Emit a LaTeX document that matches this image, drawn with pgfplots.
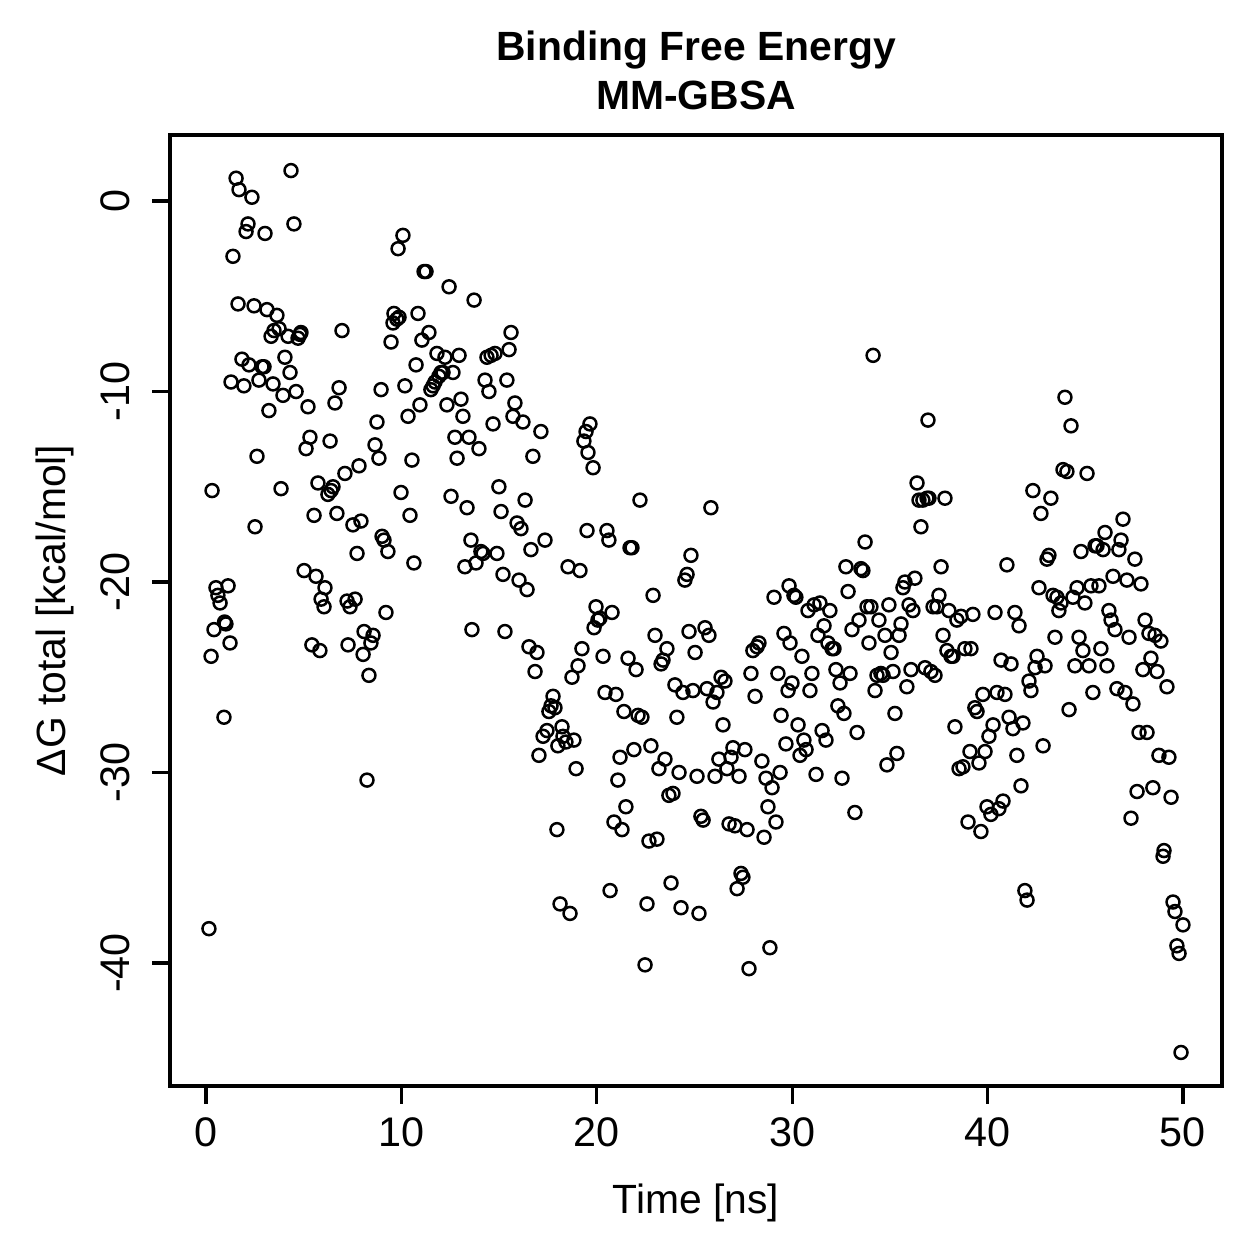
\documentclass[border=0pt]{standalone}
\usepackage{fontspec}
\setmainfont{Liberation Sans}
\usepackage{pgfplots}
\pgfplotsset{compat=1.18}
\begin{document}
\begin{tikzpicture}
\begin{axis}[
  at={(0,0)}, anchor=south west,
  scale only axis, width=422.4pt, height=381.8pt,
  xmin=-1.842, xmax=52.0, ymin=-46.46, ymax=3.465,
  axis line style={line width=1.3pt},
  tick style={line width=1.3pt, black},
  tick align=outside, major tick length=7.2pt,
  xtick={0,10,20,30,40,50}, xticklabels={0,10,20,30,40,50},
  ytick={-40,-30,-20,-10,0}, yticklabels={-40,-30,-20,-10,0},
  xtick pos=lower, ytick pos=left,
  tick label style={font=\fontsize{16.6}{19}\selectfont},
  xticklabel style={anchor=center, yshift=-11.2pt},
  yticklabel style={rotate=90, anchor=center, yshift=14.9pt},
  xlabel={Time [ns]},
  ylabel={ΔG total [kcal/mol]},
  label style={font=\fontsize{16.4}{19}\selectfont},
  xlabel style={at={(axis description cs:0.5,-0.123)}, anchor=center},
  ylabel style={at={(axis description cs:-0.1093,0.5)}, anchor=center},
  clip=false,
]
\addplot[only marks, mark=o, mark size=2.6pt, mark options={line width=1pt, black}] table {
x y
0.15 -38.2
0.26 -23.9
0.31 -15.2
0.41 -22.5
0.51 -20.3
0.61 -20.7
0.72 -21.1
0.92 -27.1
0.95 -22.1
1.02 -22.2
1.13 -20.2
1.23 -23.2
1.38 -2.9
1.28 -9.5
1.54 1.2
1.69 0.6
1.64 -5.4
1.84 -8.3
1.94 -9.7
2.05 -1.6
2.15 -1.2
2.20 -8.6
2.35 0.2
2.46 -5.5
2.51 -17.1
2.61 -13.4
2.71 -9.4
2.87 -8.7
2.97 -8.7
3.02 -1.7
3.12 -5.7
3.22 -11.0
3.33 -7.1
3.43 -9.6
3.48 -6.8
3.63 -6.0
3.74 -6.7
3.84 -15.1
3.94 -10.2
4.04 -8.2
4.20 -7.1
4.30 -9.0
4.35 1.6
4.50 -1.2
4.61 -10.0
4.71 -7.2
4.81 -7.0
4.86 -6.9
5.02 -19.4
5.12 -13.0
5.22 -10.8
5.32 -12.4
5.42 -23.3
5.53 -16.5
5.63 -19.7
5.73 -14.8
5.83 -23.6
5.89 -20.9
6.04 -21.3
6.09 -20.3
6.24 -15.4
6.35 -12.6
6.40 -15.2
6.50 -15.0
6.60 -10.6
6.70 -16.4
6.81 -9.8
6.96 -6.8
7.11 -14.3
7.22 -21.0
7.27 -23.3
7.37 -21.3
7.52 -17.0
7.63 -20.9
7.73 -18.5
7.83 -13.9
7.93 -16.8
8.04 -23.8
8.09 -22.6
8.24 -30.4
8.34 -24.9
8.44 -23.2
8.55 -22.8
8.65 -12.8
8.75 -11.6
8.85 -13.5
8.96 -9.9
9.01 -17.6
9.11 -17.8
9.21 -21.6
9.31 -18.4
9.47 -7.4
9.57 -6.4
9.62 -5.9
9.77 -6.2
9.88 -6.1
9.98 -15.3
10.08 -1.8
9.83 -2.5
10.18 -9.7
10.34 -11.3
10.44 -16.5
10.54 -13.6
10.64 -19.0
10.75 -8.6
10.85 -5.9
10.95 -10.7
11.05 -7.3
11.16 -3.7
11.26 -3.7
11.41 -6.9
11.51 -9.9
11.62 -9.7
11.72 -9.5
11.82 -8.0
11.92 -9.2
12.03 -9.0
12.13 -9.0
12.23 -8.2
12.33 -10.7
12.44 -4.5
12.54 -15.5
12.64 -9.0
12.74 -12.4
12.85 -13.5
12.95 -8.1
13.05 -10.4
13.15 -11.3
13.25 -19.2
13.36 -16.1
13.46 -12.4
13.56 -17.8
13.61 -22.5
13.72 -5.2
13.82 -19.0
13.97 -13.0
14.07 -18.4
14.18 -18.5
14.28 -9.4
14.38 -8.2
14.48 -10.0
14.59 -8.1
14.69 -11.7
14.79 -8.0
14.89 -18.5
14.99 -15.0
15.10 -16.3
15.20 -19.6
15.30 -22.6
15.40 -9.4
15.51 -7.8
15.61 -6.9
15.71 -11.3
15.81 -10.6
15.92 -16.9
16.02 -19.9
16.12 -17.2
16.22 -11.6
16.33 -15.7
16.43 -20.4
16.53 -23.4
16.63 -18.3
16.73 -13.4
16.84 -24.7
16.94 -23.7
17.04 -29.1
17.14 -12.1
17.25 -28.1
17.35 -17.8
17.45 -27.8
17.55 -26.8
17.66 -26.5
17.76 -26.0
17.86 -26.6
17.96 -33.0
18.01 -28.6
18.12 -36.9
18.22 -27.6
18.27 -28.1
18.42 -28.4
18.53 -19.2
18.63 -37.4
18.73 -25.0
18.83 -28.3
18.94 -29.8
19.04 -24.4
19.14 -19.4
19.24 -23.5
19.34 -12.6
19.45 -12.1
19.55 -13.2
19.65 -11.7
19.81 -14.0
19.50 -17.3
19.86 -22.4
19.96 -21.3
20.06 -22.0
20.16 -21.9
20.32 -23.9
20.42 -25.8
20.52 -17.3
20.62 -17.8
20.68 -36.2
20.78 -21.6
20.88 -32.6
20.98 -25.9
21.08 -30.4
21.19 -29.2
21.29 -33.0
21.39 -26.8
21.49 -31.8
21.60 -24.0
21.70 -18.2
21.80 -18.2
21.90 -28.8
22.01 -24.6
22.11 -27.0
22.21 -15.7
22.31 -27.1
22.47 -40.1
22.57 -36.9
22.67 -33.6
22.77 -28.6
22.88 -20.7
22.98 -22.8
23.08 -33.5
23.18 -29.8
23.29 -24.3
23.39 -24.1
23.49 -29.3
23.59 -23.5
23.69 -31.2
23.80 -35.8
23.90 -31.1
24.00 -25.4
24.10 -27.1
24.21 -30.0
24.31 -37.1
24.41 -25.8
24.51 -19.9
24.62 -19.6
24.72 -22.6
24.82 -18.6
24.92 -25.7
25.03 -23.7
25.13 -30.2
25.23 -37.4
25.33 -32.3
25.44 -32.5
25.54 -22.4
25.64 -25.6
25.74 -22.8
25.84 -16.1
25.95 -26.3
26.05 -30.2
26.15 -25.8
26.25 -29.3
26.36 -25.0
26.46 -27.5
26.56 -25.2
26.66 -29.8
26.77 -32.7
26.87 -29.2
26.97 -28.7
27.07 -32.8
27.18 -36.1
27.28 -30.2
27.38 -35.3
27.48 -35.5
27.58 -28.8
27.69 -33.0
27.79 -40.3
27.89 -24.8
27.99 -23.6
28.10 -26.0
28.20 -23.4
28.30 -23.2
28.45 -29.4
28.56 -33.4
28.66 -30.3
28.76 -31.8
28.86 -39.2
28.97 -30.8
29.07 -20.8
29.17 -32.6
29.27 -24.8
29.38 -30.0
29.43 -27.0
29.58 -22.7
29.68 -28.5
29.79 -25.7
29.84 -20.2
29.89 -23.2
29.99 -25.3
30.09 -20.7
30.19 -20.8
30.30 -27.5
30.40 -29.1
30.50 -23.9
30.60 -28.3
30.71 -28.8
30.81 -21.5
30.91 -25.7
31.01 -24.8
31.12 -21.2
31.22 -30.1
31.32 -22.8
31.42 -21.1
31.53 -27.8
31.63 -22.3
31.73 -28.3
31.83 -23.2
31.93 -21.5
32.04 -23.5
32.14 -23.5
32.24 -24.6
32.34 -26.5
32.45 -25.3
32.55 -30.3
32.65 -26.9
32.75 -19.2
32.86 -20.5
32.96 -24.8
33.06 -22.5
33.21 -32.1
33.32 -27.9
33.42 -22.0
33.52 -19.3
33.62 -19.4
33.73 -17.9
33.83 -21.3
33.93 -23.2
34.03 -21.3
34.14 -8.1
34.24 -25.7
34.34 -24.9
34.44 -22.0
34.54 -24.8
34.65 -24.9
34.75 -22.8
34.85 -29.6
34.95 -21.2
35.06 -23.7
35.16 -24.7
35.26 -26.9
35.36 -29.0
35.47 -22.8
35.57 -22.2
35.67 -20.3
35.77 -20.0
35.87 -25.5
35.98 -21.2
36.08 -24.6
36.18 -21.5
36.28 -19.8
36.39 -14.8
36.49 -15.7
36.59 -17.1
36.69 -15.7
36.80 -24.5
36.90 -15.6
36.95 -11.5
37.00 -15.6
37.10 -24.7
37.21 -21.3
37.31 -24.9
37.41 -21.3
37.51 -20.7
37.62 -19.2
37.72 -22.8
37.82 -15.6
37.92 -23.6
38.02 -21.5
38.13 -23.9
38.23 -23.9
38.33 -27.6
38.43 -22.0
38.54 -29.8
38.64 -21.8
38.74 -29.7
38.84 -23.5
39.00 -32.6
39.10 -28.9
39.15 -23.5
39.25 -21.7
39.35 -26.6
39.46 -26.8
39.56 -29.5
39.66 -33.1
39.76 -25.9
39.87 -28.9
39.97 -31.8
40.07 -28.1
40.17 -32.2
40.28 -27.5
40.38 -21.6
40.48 -25.8
40.58 -31.9
40.69 -24.1
40.79 -31.5
40.89 -25.9
40.99 -19.1
41.10 -27.1
41.20 -24.3
41.30 -27.7
41.40 -21.6
41.50 -29.1
41.61 -22.3
41.71 -30.7
41.81 -27.4
41.91 -36.2
42.02 -36.7
42.12 -25.2
42.22 -25.7
42.32 -15.2
42.43 -24.5
42.53 -23.9
42.63 -20.3
42.73 -16.4
42.84 -28.6
42.94 -24.4
43.04 -18.8
43.14 -18.6
43.24 -15.6
43.35 -20.7
43.45 -22.9
43.55 -20.8
43.65 -21.5
43.76 -21.1
43.86 -14.1
43.96 -10.3
44.06 -14.2
44.17 -26.7
44.27 -11.8
44.37 -20.8
44.47 -24.4
44.58 -20.3
44.68 -22.9
44.78 -18.4
44.88 -23.6
44.98 -21.1
45.09 -14.3
45.19 -24.4
45.29 -20.2
45.39 -25.8
45.50 -18.1
45.60 -18.1
45.70 -20.2
45.80 -23.5
45.91 -18.3
46.01 -17.4
46.11 -24.4
46.21 -21.5
46.32 -22.0
46.42 -19.7
46.52 -22.5
46.62 -25.6
46.72 -18.3
46.83 -17.8
46.93 -16.7
47.03 -25.8
47.13 -19.9
47.24 -22.9
47.34 -32.4
47.44 -26.4
47.54 -18.8
47.65 -31.0
47.75 -27.9
47.85 -20.1
47.95 -24.6
48.06 -22.0
48.16 -27.9
48.26 -22.7
48.36 -24.0
48.46 -30.8
48.57 -22.8
48.67 -24.7
48.77 -29.1
48.87 -23.1
48.98 -34.4
49.03 -34.1
49.18 -25.5
49.28 -29.2
49.39 -31.3
49.49 -36.8
49.59 -37.3
49.69 -39.1
49.80 -39.5
49.90 -44.7
50.00 -38.0
};
\node[font=\fontsize{16.4}{20}\selectfont\bfseries, align=center] at (axis description cs:0.5,1.068) {Binding Free Energy\\MM-GBSA};
\end{axis}
\pgfresetboundingbox
\path[use as bounding box] (-68.26pt,-69.46pt) rectangle (437.24pt,436.04pt);
\end{tikzpicture}
\end{document}
